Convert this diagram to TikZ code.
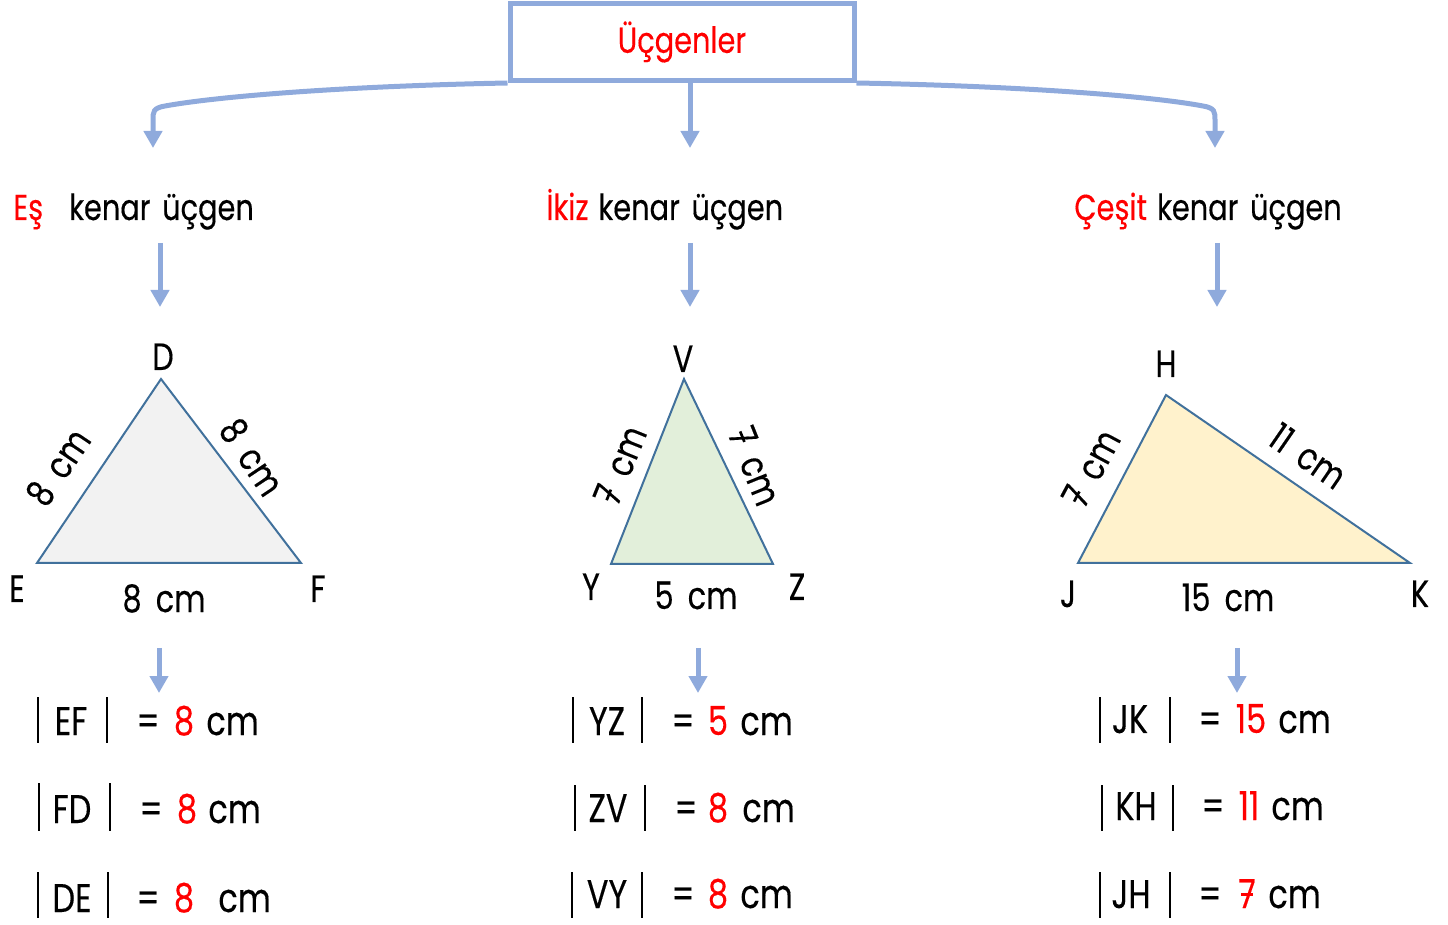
\documentclass[tikz,border=0pt]{standalone}
\usepackage{fontspec}
\setmainfont{Poppins}[FakeStretch=0.8, FakeBold=0.3]
\usetikzlibrary{arrows.meta}
\definecolor{boxblue}{HTML}{8FAADC}
\definecolor{triline}{HTML}{41719C}
\definecolor{redtxt}{HTML}{FF0000}
\definecolor{fillgray}{HTML}{F2F2F2}
\definecolor{fillgreen}{HTML}{E2EFDA}
\definecolor{fillyellow}{HTML}{FFF2CC}
\newcommand{\sevenbar}{\ooalign{7\cr\hidewidth\rule[0.3em]{0.3em}{0.07em}\hidewidth\cr}}
\begin{document}
\begin{tikzpicture}[x=0.5pt,y=-0.5pt,
  flow/.style={draw=boxblue, line width=2.5pt, -{Triangle[length=8.5pt,width=9pt]}},
  titlebox/.style={draw=boxblue, line width=2.5pt, minimum width=172pt, minimum height=38.5pt, inner sep=0pt},
  kind/.style={font=\fontsize{18}{22}\selectfont, inner sep=0pt, anchor=base west},
  vert/.style={font=\fontsize{19}{22}\selectfont, inner sep=0pt, anchor=base},
  side/.style={font=\fontsize{19}{22}\selectfont, inner sep=0pt},
  eq/.style={font=\fontsize{20}{24}\selectfont, inner sep=0pt, anchor=base},
  unit/.style={font=\fontsize{20}{24}\selectfont, inner sep=0pt, anchor=base west},
  red/.style={text=redtxt},
  tri/.style={draw=triline, line width=1pt, line join=miter},
  bar/.style={draw=black, line width=1pt},
]
\useasboundingbox (0,0) rectangle (1448,925);

% title
\node[titlebox, font=\fontsize{18}{22}\selectfont, text=redtxt] (top) at (682,42) {Üçgenler};

% kinds
\node[kind] (es) at (13,220) {{\color{redtxt}Eş}\hspace{13pt}kenar\hspace{2pt} üçgen};
\node[kind] (ikiz) at (546,220) {{\color{redtxt}İkiz}\hspace{5pt}kenar\hspace{2pt} üçgen};
\node[kind] (cesit) at (1074,220) {{\color{redtxt}Çeşit}\hspace{5pt}kenar\hspace{2pt} üçgen};

% top connectors
\coordinate (esTip) at (153,148);
\coordinate (ikTip) at (690,148);
\coordinate (ceTip) at (1215,148);
\draw[flow] (top.south west) .. controls (350,86) and (220,96) .. (165,106)
  .. controls (153,108) and (153,112) .. (153,120) -- (esTip);
\draw[flow] (top.south -| ikTip) -- (ikTip);
\draw[flow] (top.south east) .. controls (1020,86) and (1150,96) .. (1203,106)
  .. controls (1215,108) and (1215,112) .. (1215,120) -- (ceTip);

% arrows to triangles
\coordinate (a1) at (160,243); \coordinate (a1e) at (160,307);
\coordinate (a2) at (690,243); \coordinate (a2e) at (690,307);
\coordinate (a3) at (1217,243); \coordinate (a3e) at (1217,307);
\draw[flow] (a1) -- (a1e);
\draw[flow] (a2) -- (a2e);
\draw[flow] (a3) -- (a3e);

% triangle DEF
\coordinate (D) at (161,379); \coordinate (E) at (37,563); \coordinate (F) at (301,563);
\draw[tri, fill=fillgray] (D) -- (E) -- (F) -- cycle;
\node[vert] (lD) at (163,370) {D};
\node[vert] (lE) at (17,602) {E};
\node[vert] (lF) at (318,602) {F};
\node[vert] (sEF) at (164,612) {8\hspace{3pt} cm};
\node[side, rotate=56] (sDE) at (58,467) {8\hspace{3pt} cm};
\node[side, rotate=-56] (sDF) at (252,457) {8\hspace{3pt} cm};

% triangle VYZ
\coordinate (V) at (684,379); \coordinate (Y) at (611,564); \coordinate (Z) at (773,564);
\draw[tri, fill=fillgreen] (V) -- (Y) -- (Z) -- cycle;
\node[vert] (lV) at (683,372) {V};
\node[vert] (lY) at (591,600) {Y};
\node[vert] (lZ) at (797,600) {Z};
\node[vert] (sYZ) at (696,609) {5\hspace{3pt} cm};
\node[side, rotate=68] (sVY) at (620,465) {\sevenbar\hspace{3pt} cm};
\node[side, rotate=-68] (sVZ) at (755,466) {\sevenbar\hspace{3pt} cm};

% triangle HJK
\coordinate (H) at (1166,395); \coordinate (J) at (1078,563); \coordinate (K) at (1410,563);
\draw[tri, fill=fillyellow] (H) -- (J) -- (K) -- cycle;
\node[vert] (lH) at (1166,377) {H};
\node[vert] (lJ) at (1068,607) {J};
\node[vert] (lK) at (1420,607) {K};
\node[vert] (sJK) at (1228,611) {15\hspace{3pt} cm};
\node[side, rotate=62] (sJH) at (1091,468) {\sevenbar\hspace{3pt} cm};
\node[side, rotate=-34.5] (sHK) at (1308,456) {11\hspace{3pt} cm};

% arrows to equations
\coordinate (b1) at (159,648); \coordinate (b1e) at (159,693);
\coordinate (b2) at (698,648); \coordinate (b2e) at (698,693);
\coordinate (b3) at (1237,648); \coordinate (b3e) at (1237,693);
\draw[flow] (b1) -- (b1e);
\draw[flow] (b2) -- (b2e);
\draw[flow] (b3) -- (b3e);

% equations left
\node[eq] (nEF) at (71,735) {EF};
\draw[bar] (38,697) -- (38,743); \draw[bar] (107,697) -- (107,743);
\node[eq] (qEF) at (148,735) {=};
\node[eq, red] (vEF) at (184,735) {8};
\node[unit] (uEF) at (206,735) {cm};
\node[eq] (nFD) at (72,823) {FD};
\draw[bar] (39,783) -- (39,831); \draw[bar] (110,783) -- (110,831);
\node[eq] (qFD) at (151,823) {=};
\node[eq, red] (vFD) at (187,823) {8};
\node[unit] (uFD) at (208,823) {cm};
\node[eq] (nDE) at (72,912) {DE};
\draw[bar] (38,872) -- (38,918); \draw[bar] (108,872) -- (108,918);
\node[eq] (qDE) at (148,912) {=};
\node[eq, red] (vDE) at (184,912) {8};
\node[unit] (uDE) at (218,912) {cm};

% equations middle
\node[eq] (nYZ) at (607,735) {YZ};
\draw[bar] (573,697) -- (573,743); \draw[bar] (642,697) -- (642,743);
\node[eq] (qYZ) at (683,735) {=};
\node[eq, red] (vYZ) at (718,735) {5};
\node[unit] (uYZ) at (740,735) {cm};
\node[eq] (nZV) at (608,822) {ZV};
\draw[bar] (575,785) -- (575,831); \draw[bar] (645,785) -- (645,831);
\node[eq] (qZV) at (686,822) {=};
\node[eq, red] (vZV) at (718,822) {8};
\node[unit] (uZV) at (742,822) {cm};
\node[eq] (nVY) at (607,908) {VY};
\draw[bar] (572,872) -- (572,918); \draw[bar] (642,872) -- (642,918);
\node[eq] (qVY) at (683,908) {=};
\node[eq, red] (vVY) at (718,908) {8};
\node[unit] (uVY) at (740,908) {cm};

% equations right
\node[eq] (nJK) at (1130,733) {JK};
\draw[bar] (1100,697) -- (1100,743); \draw[bar] (1170,697) -- (1170,743);
\node[eq] (qJK) at (1210,733) {=};
\node[eq, red] (vJK) at (1251,733) {15};
\node[unit] (uJK) at (1278,733) {cm};
\node[eq] (nKH) at (1136,820) {KH};
\draw[bar] (1102,785) -- (1102,831); \draw[bar] (1173,785) -- (1173,831);
\node[eq] (qKH) at (1213,820) {=};
\node[eq, red] (vKH) at (1249,820) {11};
\node[unit] (uKH) at (1271,820) {cm};
\node[eq] (nJH) at (1131,908) {JH};
\draw[bar] (1100,872) -- (1100,918); \draw[bar] (1170,872) -- (1170,918);
\node[eq] (qJH) at (1210,908) {=};
\node[eq, red] (vJH) at (1247,908) {\sevenbar};
\node[unit] (uJH) at (1268,908) {cm};
\end{tikzpicture}
\end{document}
